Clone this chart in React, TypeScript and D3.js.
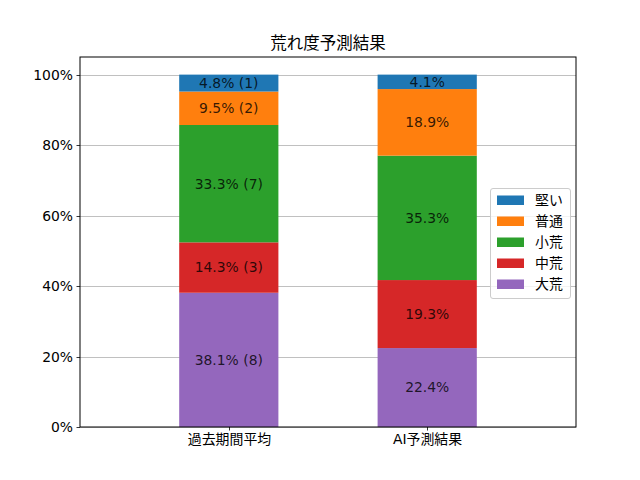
import React, { useEffect, useRef } from "react";
import * as d3 from "d3";

const categories = ["過去期間平均", "AI予測結果"];
const seriesNames = ["大荒", "中荒", "小荒", "普通", "堅い"];
const seriesColors = ["#9467bd", "#d62728", "#2ca02c", "#ff7f0e", "#1f77b4"];
const values: number[][] = [
  [38.1, 22.4], // 大荒
  [14.3, 19.3], // 中荒
  [33.3, 35.3], // 小荒
  [9.5, 18.9], // 普通
  [4.8, 4.1], // 堅い
];
const counts: (number | null)[][] = [
  [8, null],
  [3, null],
  [7, null],
  [2, null],
  [1, null],
];
const yTicks = [0, 20, 40, 60, 80, 100];
const title = "荒れ度予測結果";
const legendOrder = ["堅い", "普通", "小荒", "中荒", "大荒"];

const FONT = "'DejaVu Sans', 'Noto Sans CJK JP', sans-serif";
const FS = 13.9;

export default function App() {
  const ref = useRef<SVGSVGElement>(null);
  useEffect(() => {
    const svg = d3.select(ref.current);
    svg.selectAll("*").remove();
    const W = 640, H = 480;
    const left = 80, right = 576, top = 57, bottom = 427;
    const x = d3.scaleLinear().domain([-0.75, 1.75]).range([left, right]);
    const y = d3.scaleLinear().domain([0, 105]).range([bottom, top]);
    const barW = x(0.5) - x(0);

    svg.append("rect").attr("width", W).attr("height", H).attr("fill", "#fff");

    // grid
    svg.append("g").selectAll("line").data(yTicks).join("line")
      .attr("x1", left).attr("x2", right)
      .attr("y1", (d) => Math.round(y(d)) + 0.5).attr("y2", (d) => Math.round(y(d)) + 0.5)
      .attr("stroke", "#b0b0b0").attr("stroke-width", 0.8);

    // bars
    const stack = d3.stack<number>()
      .keys(seriesNames.map((_, i) => String(i)))
      .value((ci, key) => values[+key][ci]);
    const stacked = stack(categories.map((_, i) => i));
    stacked.forEach((layer, si) => {
      const g = svg.append("g");
      layer.forEach((seg, ci) => {
        g.append("rect")
          .attr("x", x(ci) - barW / 2)
          .attr("width", barW)
          .attr("y", y(seg[1]))
          .attr("height", y(seg[0]) - y(seg[1]))
          .attr("fill", seriesColors[si]);
        const c = counts[si][ci];
        const label = `${values[si][ci].toFixed(1)}%` + (c != null ? ` (${c})` : "");
        g.append("text")
          .attr("x", x(ci))
          .attr("y", y((seg[0] + seg[1]) / 2))
          .attr("dy", "0.35em")
          .attr("text-anchor", "middle")
          .attr("font-family", FONT)
          .attr("font-size", FS)
          .attr("fill", "#000")
          .attr("fill-opacity", 0.8)
          .text(label);
      });
    });

    // axes frame
    svg.append("rect")
      .attr("x", left).attr("y", top).attr("width", right - left).attr("height", bottom - top)
      .attr("fill", "none").attr("stroke", "#000").attr("stroke-width", 1);

    // y ticks
    const yg = svg.append("g");
    yTicks.forEach((t) => {
      const yy = Math.round(y(t)) + 0.5;
      yg.append("line").attr("x1", left - 3.5).attr("x2", left).attr("y1", yy).attr("y2", yy)
        .attr("stroke", "#000").attr("stroke-width", 0.8);
      yg.append("text").attr("x", left - 7).attr("y", yy).attr("dy", "0.35em")
        .attr("text-anchor", "end").attr("font-family", FONT).attr("font-size", FS)
        .attr("fill", "#000").text(`${t}%`);
    });

    // x ticks
    const xg = svg.append("g");
    categories.forEach((c, i) => {
      const xx = Math.round(x(i)) + 0.5;
      xg.append("line").attr("x1", xx).attr("x2", xx).attr("y1", bottom).attr("y2", bottom + 3.5)
        .attr("stroke", "#000").attr("stroke-width", 0.8);
      xg.append("text").attr("x", xx).attr("y", bottom + 17).attr("text-anchor", "middle")
        .attr("font-family", FONT).attr("font-size", FS).attr("fill", "#000").text(c);
    });

    // title
    svg.append("text").attr("x", (left + right) / 2).attr("y", 49).attr("text-anchor", "middle")
      .attr("font-family", FONT).attr("font-size", 16.5).attr("fill", "#000").text(title);

    // legend
    const lx = 490, ly = 188, lw = 80, lh = 110;
    const lg = svg.append("g");
    lg.append("rect").attr("x", lx + 0.5).attr("y", ly + 0.5).attr("width", lw).attr("height", lh)
      .attr("rx", 2.5).attr("fill", "#fff").attr("fill-opacity", 0.8)
      .attr("stroke", "#cccccc").attr("stroke-width", 1);
    legendOrder.forEach((name, i) => {
      const si = seriesNames.indexOf(name);
      const cy = 200 + i * 21;
      lg.append("rect").attr("x", 497).attr("y", cy - 4.5).attr("width", 27).attr("height", 9.5)
        .attr("fill", seriesColors[si]);
      lg.append("text").attr("x", 535).attr("y", cy).attr("dy", "0.35em")
        .attr("font-family", FONT).attr("font-size", FS).attr("fill", "#000").text(name);
    });
  }, []);
  return (
    <svg ref={ref} width={640} height={480}
      style={{ position: "absolute", left: 0, top: 0, display: "block" }} />
  );
}
